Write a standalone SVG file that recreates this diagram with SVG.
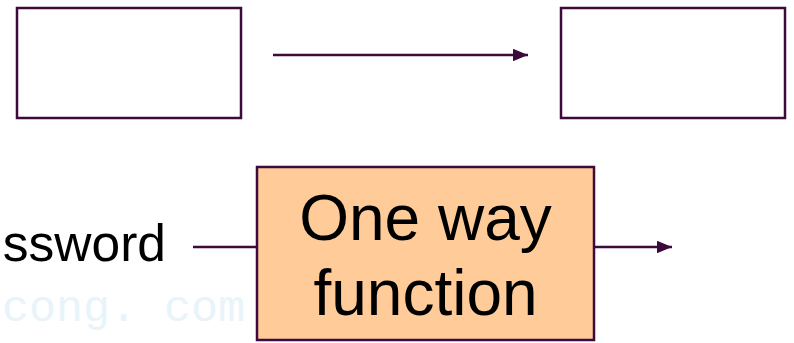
<svg xmlns="http://www.w3.org/2000/svg" width="794" height="343" viewBox="0 0 794 343">
<defs>
<style>
.box{fill:#ffffff;stroke:#3d0a3d;stroke-width:2.5}
.fn{fill:#ffcc99;stroke:#3d0a3d;stroke-width:2.5}
.ln{stroke:#3d0a3d;stroke-width:2.5;fill:none}
.t{font-family:"Liberation Sans",Arial,sans-serif;fill:#000000}
.wm{font-family:"Liberation Mono","DejaVu Sans Mono",monospace;fill:#e8f4fa}
</style>
<marker id="ah" markerWidth="6" markerHeight="5" refX="6" refY="2.5" orient="auto" markerUnits="strokeWidth">
<path d="M0,0 L6,2.5 L0,5 Z" fill="#3d0a3d"/>
</marker>
</defs>
<text class="wm" x="2" y="321" font-size="45">cong. com</text>
<g id="box-left"><rect class="box" x="17" y="8" width="224" height="110"/></g>
<g id="box-right"><rect class="box" x="561" y="8" width="224" height="110"/></g>
<g id="input-label"><text class="t" x="166" y="261" font-size="51.5" text-anchor="end">ssword</text></g>
<g id="one-way-function">
<rect class="fn" x="257" y="167" width="337" height="173"/>
<text class="t" x="425.5" y="240" font-size="64" text-anchor="middle">One way</text>
<text class="t" x="425.5" y="315" font-size="64" text-anchor="middle">function</text>
</g>
<g id="connectors">
<line class="ln" x1="273" y1="55" x2="528" y2="55" marker-end="url(#ah)"/>
<line class="ln" x1="193" y1="247" x2="257" y2="247"/>
<line class="ln" x1="594" y1="247" x2="672" y2="247" marker-end="url(#ah)"/>
</g>
</svg>
